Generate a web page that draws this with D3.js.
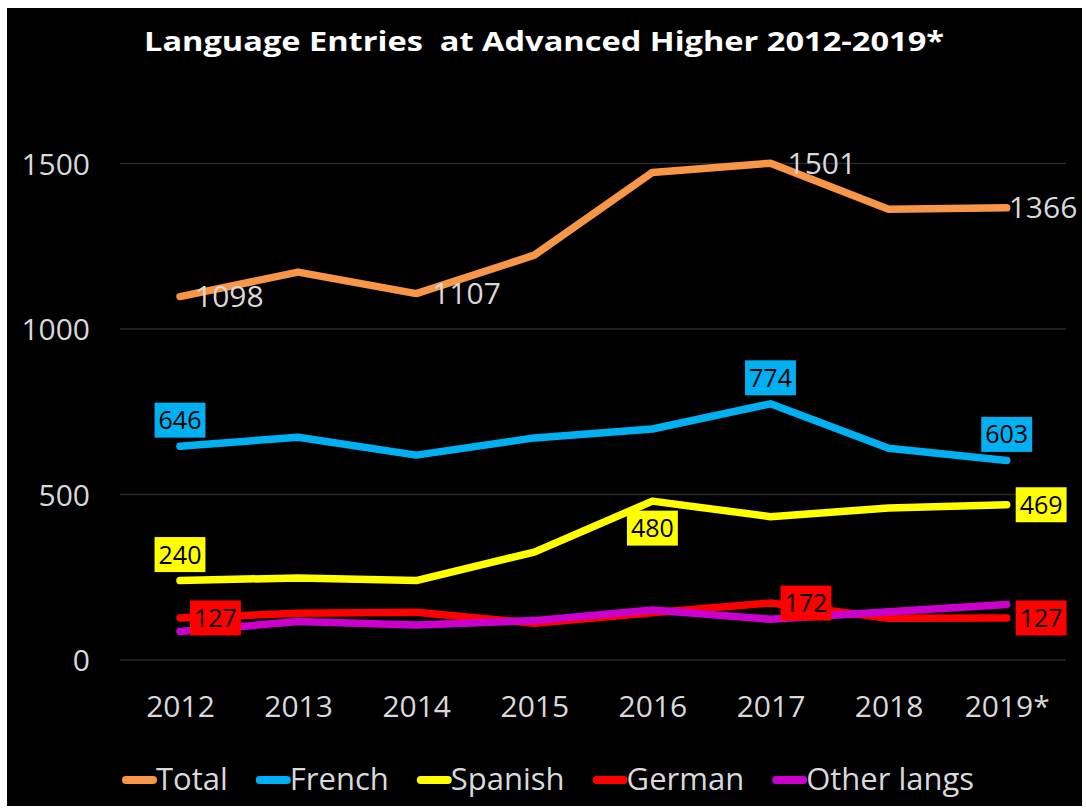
<!DOCTYPE html>
<html><head><meta charset="utf-8">
<script src="https://cdn.jsdelivr.net/npm/d3@7"></script>
<style>
html,body{margin:0;padding:0;background:#fff;}
svg{display:block;}
text{font-family:"Open Sans",sans-serif;}
</style></head>
<body>
<svg id="c" width="1086" height="810"></svg>
<script>
const years = ["2012","2013","2014","2015","2016","2017","2018","2019*"];
const seriesNames = ["Total","French","Spanish","German","Other langs"];
const total   = [1098,1172,1107,1223,1473,1501,1362,1366];
const french  = [646,673,619,671,698,774,640,603];
const spanish = [240,248,240,326,480,433,459,469];
const german  = [127,141,144,111,143,172,126,127];
const other   = [86,116,106,119,151,123,146,168];
const yTicks  = [0,500,1000,1500];
const colors  = ["#F79646","#00B0F0","#FFFF00","#FF0000","#CC00CC"];
const series  = [total,french,spanish,german,other];
// labelled points: series index, point index, placement
const labels = [
  {s:0,i:0,pos:"right",dx:15},{s:0,i:2,pos:"right",dx:16},{s:0,i:5,pos:"right",dx:17},{s:0,i:7,pos:"right",dx:2},
  {s:1,i:0,pos:"above"},{s:1,i:5,pos:"above"},{s:1,i:7,pos:"above"},
  {s:2,i:0,pos:"above"},{s:2,i:4,pos:"below"},{s:2,i:7,pos:"right",dx:9},
  {s:3,i:0,pos:"right",dx:10},{s:3,i:5,pos:"right",dx:10},{s:3,i:7,pos:"right",dx:9}
];

const svg = d3.select("#c");
svg.append("rect").attr("x",7).attr("y",8).attr("width",1075).attr("height",798).attr("fill","#000");

const x = d3.scalePoint().domain(years).range([180,1006.7]);
const y = d3.scaleLinear().domain([0,1500]).range([660,163.5]);

// gridlines
svg.append("g").selectAll("line").data(yTicks).join("line")
  .attr("x1",120).attr("x2",1066).attr("y1",d=>y(d)).attr("y2",d=>y(d))
  .attr("stroke","#2a2a2a").attr("stroke-width",1.5);

// y axis
const yAxis = svg.append("g").attr("transform","translate(90,0)")
  .call(d3.axisLeft(y).tickValues(yTicks).tickSize(0).tickPadding(0).tickFormat(d3.format("d")));
yAxis.select(".domain").remove();
yAxis.selectAll("text").attr("fill","#d9d9d9").style("font-size","30px").style("font-family","'Open Sans',sans-serif").attr("dy","0.35em");

// x axis
const xAxis = svg.append("g").attr("transform","translate(0,690)")
  .call(d3.axisBottom(x).tickSize(0).tickPadding(0));
xAxis.select(".domain").remove();
xAxis.selectAll("text").attr("fill","#d9d9d9").style("font-size","30px").style("font-family","'Open Sans',sans-serif").attr("dy","0.9em");

// lines
const line = d3.line().x((d,i)=>x(years[i])).y(d=>y(d));
svg.append("g").selectAll("path").data(series).join("path")
  .attr("d",d=>line(d)).attr("fill","none")
  .attr("stroke",(d,i)=>colors[i]).attr("stroke-width",7.5)
  .attr("stroke-linecap","round").attr("stroke-linejoin","round");

// labels
const lg = svg.append("g");
labels.forEach(l=>{
  const v = series[l.s][l.i];
  const px = x(years[l.i]), py = y(v);
  if(l.s===0){
    lg.append("text").attr("x",px+l.dx).attr("y",py).attr("dy","0.35em")
      .attr("fill","#d9d9d9").style("font-size","30px").text(v);
    return;
  }
  const t = lg.append("text").style("font-size","25px").attr("fill","#000").text(v);
  const w = t.node().getComputedTextLength();
  const bw = w+8, bh = 35;
  let cx, cy;
  if(l.pos==="above"){cx=px; cy=py-26;}
  else if(l.pos==="below"){cx=px; cy=py+27;}
  else {cx=px+l.dx+bw/2; cy=py;}
  lg.insert("rect","text:last-child").attr("x",cx-bw/2).attr("y",cy-bh/2).attr("width",bw).attr("height",bh).attr("fill",colors[l.s]);
  t.attr("x",cx).attr("y",cy).attr("dy","0.36em").attr("text-anchor","middle");
  t.raise();
});

// title
svg.append("text").attr("x",544).attr("y",51).attr("text-anchor","middle")
  .attr("fill","#fff").style("font-size","26px").style("font-weight","bold")
  .style("white-space","pre")
  .attr("textLength",800).attr("lengthAdjust","spacingAndGlyphs")
  .text("Language Entries  at Advanced Higher 2012-2019*");

// legend
const leg = svg.append("g");
let lx = 122;
seriesNames.forEach((n,i)=>{
  leg.append("line").attr("x1",lx+4).attr("x2",lx+31).attr("y1",780).attr("y2",780)
    .attr("stroke",colors[i]).attr("stroke-width",8).attr("stroke-linecap","round");
  const t = leg.append("text").attr("x",lx+34).attr("y",790).attr("fill","#d9d9d9")
    .style("font-size","31px").text(n);
  lx += 34 + t.node().getComputedTextLength() + 28;
});
</script>
</body></html>
